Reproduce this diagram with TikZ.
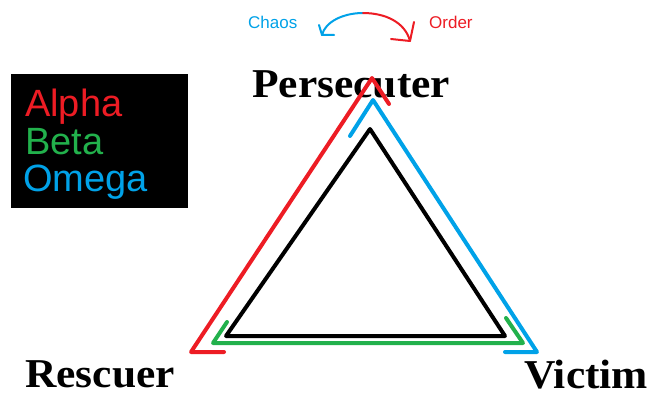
\documentclass[tikz,border=0pt]{standalone}
\usepackage{fontspec}
\setmainfont{Liberation Serif}
\newfontfamily\legendfont{Liberation Sans}
\usetikzlibrary{arrows.meta}
\definecolor{pred}{RGB}{237,28,36}
\definecolor{pgreen}{RGB}{34,177,76}
\definecolor{pblue}{RGB}{0,162,232}
\tikzset{
  tri/.style={line width=4pt, line cap=round, line join=round},
  role/.style={font=\fontsize{41}{41}\selectfont\bfseries, anchor=base west, inner sep=0pt, xscale=1.06},
  leg/.style={font=\legendfont\fontsize{38}{38}\selectfont, anchor=base west, inner sep=0pt},
  small/.style={font=\legendfont\fontsize{17}{17}\selectfont, anchor=base west, inner sep=0pt},
  vtip/.style={line width=2pt, line cap=round, line join=round}
}
\begin{document}
\begin{tikzpicture}[x=1pt,y=-1pt]
\useasboundingbox (0,0) rectangle (658,396);
\fill[white] (0,0) rectangle (658,396);
% legend
\fill[black] (11,74) rectangle (188,208);
\node[leg, text=pred] (alpha) at (25,116) {Alpha};
\node[leg, text=pgreen] (beta) at (25,154) {Beta};
\node[leg, text=pblue] (omega) at (23,191) {Omega};
% chaos / order
\node[small, text=pblue] (chaos) at (248,29) {Chaos};
\node[small, text=pred] (order) at (429,29) {Order};
\draw[vtip, pblue] (322,35) .. controls (325,22) and (343,13) .. (363,13);
\draw[vtip, pred] (363,13) .. controls (385,13) and (405,22) .. (410,41);
\draw[vtip, pblue] (319,25) -- (322,35) -- (334,35);
\draw[vtip, pred] (414,22) -- (410,41) -- (391,39);
% labels
\node[role] (pers) at (252,97) {Persecuter};
\node[role] (resc) at (25,387) {Rescuer};
\node[role] (vict) at (524,388) {Victim};
% triangles
\draw[tri, black] (370,129) -- (505,336) -- (226,336) -- cycle;
\draw[tri, pred] (224,352) -- (191,352) -- (372,78) -- (389,104);
\draw[tri, pblue] (350,136) -- (373,100) -- (537,352) -- (505,352);
\draw[tri, pgreen] (227,322) -- (213,343) -- (523,343) -- (506,318);
\end{tikzpicture}
\end{document}
